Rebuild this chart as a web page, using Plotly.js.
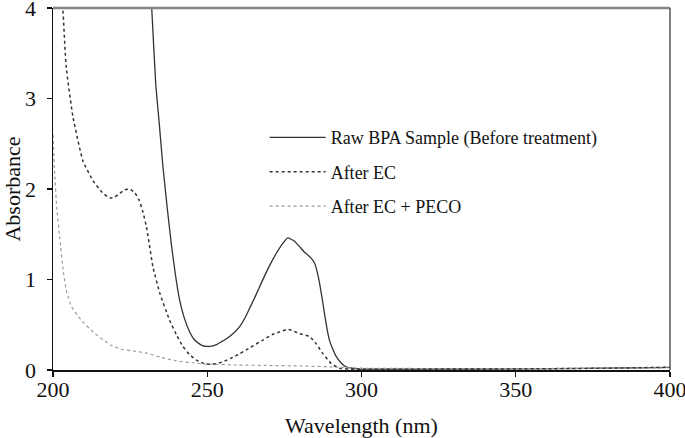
<!DOCTYPE html>
<html>
<head>
<meta charset="utf-8">
<script src="https://cdn.plot.ly/plotly-3.0.1.min.js"></script>
<style>html,body{margin:0;padding:0;background:#fff;}#chart{width:685px;height:438px;}</style>
</head>
<body>
<div id="chart"></div>
<script>
// Raw BPA sample (before treatment)
var rawWavelength = [231.5, 232, 233.3, 234.5, 235.6, 237, 238.4, 239.7, 241, 242.6, 244.3, 245.7, 247, 248.5, 250, 251.5, 253, 254.5, 256, 258.3, 260.5, 262.3, 264, 265.8, 267.5, 270, 272.4, 274.5, 276.1, 278, 280, 281.3, 282.6, 283.8, 284.8, 285.6, 286.4, 287.2, 288, 288.8, 289.6, 290.7, 291.8, 293.5, 295, 298, 300, 320, 350, 380, 400];
var rawAbsorbance = [4.3, 4.0, 3.16, 2.7, 2.26, 1.8, 1.38, 1.05, 0.78, 0.57, 0.42, 0.34, 0.3, 0.27, 0.26, 0.265, 0.28, 0.31, 0.34, 0.4, 0.48, 0.58, 0.70, 0.83, 0.96, 1.14, 1.29, 1.40, 1.46, 1.43, 1.36, 1.31, 1.27, 1.23, 1.18, 1.09, 0.96, 0.8, 0.625, 0.46, 0.33, 0.23, 0.15, 0.075, 0.036, 0.015, 0.01, 0.01, 0.012, 0.02, 0.03];

// After EC
var ecWavelength = [202.8, 203.2, 204.3, 206.5, 209.7, 213, 216, 218.4, 220, 221.6, 223.2, 224.8, 226.5, 228, 229.2, 230.3, 232.4, 234.6, 237.8, 240, 242.1, 244.3, 246.5, 248.7, 250.8, 253, 255, 257.7, 260.5, 264, 268, 271, 273.4, 276.1, 278, 280, 283.2, 285.3, 287.5, 290.2, 292.9, 296, 300, 320, 350, 380, 400];
var ecAbsorbance = [4.3, 4.0, 3.34, 2.79, 2.31, 2.09, 1.96, 1.90, 1.91, 1.95, 1.99, 2.0, 1.96, 1.87, 1.74, 1.58, 1.14, 0.85, 0.55, 0.39, 0.26, 0.17, 0.11, 0.075, 0.063, 0.07, 0.09, 0.13, 0.18, 0.25, 0.33, 0.39, 0.42, 0.45, 0.43, 0.40, 0.37, 0.29, 0.18, 0.07, 0.02, 0.01, 0.008, 0.01, 0.012, 0.02, 0.03];

// After EC + PECO
var pecoWavelength = [200, 200.5, 201.2, 202.2, 203.3, 204.5, 206, 208, 210, 213, 216, 219, 222, 226, 230, 235, 240, 245, 250, 260, 270, 280, 290, 300, 350, 400];
var pecoAbsorbance = [2.6, 2.2, 1.8, 1.45, 1.1, 0.85, 0.7, 0.6, 0.52, 0.42, 0.34, 0.27, 0.23, 0.21, 0.19, 0.14, 0.10, 0.08, 0.065, 0.055, 0.05, 0.045, 0.035, 0.02, 0.015, 0.025];

var seriesNames = ["Raw BPA Sample (Before treatment)", "After EC", "After EC + PECO"];
var xTickValues = [200, 250, 300, 350, 400];
var yTickValues = [0, 1, 2, 3, 4];

var serif = "Liberation Serif, Times New Roman, serif";

var traces = [
  {x: rawWavelength, y: rawAbsorbance, name: seriesNames[0], mode: "lines", legendgroup: "a",
   line: {color: "#333333", width: 1.3, shape: "spline", smoothing: 0.4}},
  {x: ecWavelength, y: ecAbsorbance, name: seriesNames[1], mode: "lines", legendgroup: "b",
   line: {color: "#333333", width: 1.5, dash: "dot", shape: "spline", smoothing: 0.4}},
  {x: pecoWavelength, y: pecoAbsorbance, name: seriesNames[2], mode: "lines", legendgroup: "c",
   line: {color: "#9a9a9a", width: 1.2, dash: "dot", shape: "spline", smoothing: 0.4}}
];

var layout = {
  width: 685, height: 438,
  margin: {l: 53, r: 15, t: 8, b: 68},
  paper_bgcolor: "#ffffff", plot_bgcolor: "#ffffff",
  font: {family: serif, color: "#111111", size: 22},
  showlegend: true,
  legend: {x: 0.343, y: 0.693, xanchor: "left", yanchor: "top", bgcolor: "rgba(0,0,0,0)",
           font: {family: serif, size: 18, color: "#111111"}, tracegroupgap: 8, itemwidth: 56},
  xaxis: {range: [200, 400], tickvals: xTickValues, ticktext: xTickValues.map(String),
          showgrid: false, zeroline: false, showline: true, linecolor: "#111111", linewidth: 1.5,
          ticks: "outside", ticklen: 5, tickwidth: 1.3, tickcolor: "#111111",
          ticklabeloverflow: "allow", ticklabelstandoff: -6,
          tickfont: {family: serif, size: 22, color: "#111111"},
          title: {text: "Wavelength (nm)", font: {family: serif, size: 22, color: "#111111"}, standoff: 20}},
  yaxis: {range: [0, 4], tickvals: yTickValues, ticktext: yTickValues.map(String),
          showgrid: false, zeroline: false, showline: true, linecolor: "#111111", linewidth: 1.5,
          ticks: "outside", ticklen: 5, tickwidth: 1.3, tickcolor: "#111111",
          ticklabeloverflow: "allow", ticklabelstandoff: 6,
          tickfont: {family: serif, size: 22, color: "#111111"},
          title: {text: "Absorbance", font: {family: serif, size: 22, color: "#111111"}, standoff: 4}},
  shapes: [
    {type: "line", xref: "paper", yref: "paper", x0: 0, x1: 1, y0: 1, y1: 1, line: {color: "#858585", width: 2.5}},
    {type: "line", xref: "paper", yref: "paper", x0: 1, x1: 1, y0: 0, y1: 1, line: {color: "#555555", width: 1.5}}
  ]
};

Plotly.newPlot("chart", traces, layout, {displayModeBar: false, staticPlot: true});
</script>
</body>
</html>
